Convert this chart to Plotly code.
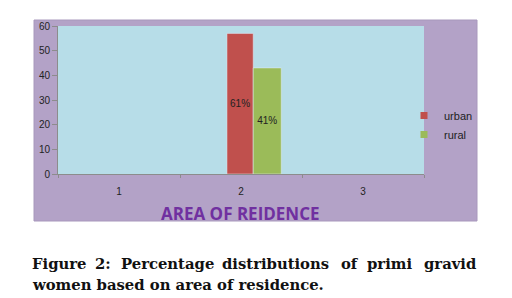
import plotly.graph_objects as go

categories = [1, 2, 3]
urban = [None, 57, None]
rural = [None, 43, None]
urban_labels = ["", "61%", ""]
rural_labels = ["", "41%", ""]
y_ticks = [0, 10, 20, 30, 40, 50, 60]
series_names = ["urban", "rural"]
series_colors = ["#C0504D", "#9BBB59"]
x_title = "AREA OF REIDENCE"
caption_line1_words = ["Figure", "2:", "Percentage", "distributions", "of", "primi", "gravid"]
caption_line2 = "women based on area of residence."

# layout positions (page pixels) of justified caption words
word_px = [30, 93, 119, 220, 339, 365, 422]

W, H = 504, 290  # page body has 8px margin
L, R, T, B = 50, 88, 18, 124
pw, ph = W - L - R, H - T - B

def px(xp):
    return (xp - 8 - L) / pw

def py(yp):
    return (H - B - (yp - 8)) / ph

fig = go.Figure()
fig.add_trace(go.Bar(x=categories, y=urban, name=series_names[0], marker_color=series_colors[0],
                     width=0.215, offset=-0.115, text=urban_labels, showlegend=False,
                     textposition="inside", insidetextanchor="middle",
                     textfont=dict(size=10, color="#222", family="Liberation Sans"),
                     textangle=0))
fig.add_trace(go.Bar(x=categories, y=rural, name=series_names[1], marker_color=series_colors[1],
                     width=0.23, offset=0.10, text=rural_labels, showlegend=False,
                     textposition="inside", insidetextanchor="middle",
                     textfont=dict(size=10, color="#222", family="Liberation Sans"),
                     textangle=0))
for n, c in zip(series_names, series_colors):
    fig.add_trace(go.Scatter(x=[None], y=[None], mode="markers", name=n,
                             marker=dict(symbol="square", size=7, color=c)))

annotations = [
    dict(text=x_title, xref="paper", yref="paper", x=px(240), y=py(213),
         xanchor="center", yanchor="middle", showarrow=False,
         font=dict(size=17, color="#7030A0", family="Open Sans", weight="bold")),
    dict(text=caption_line2, xref="paper", yref="paper", x=px(30), y=py(284),
         xanchor="left", yanchor="middle", showarrow=False,
         font=dict(size=14.8, color="#111", family="DejaVu Serif", weight="bold")),
]
for w, xp in zip(caption_line1_words, word_px):
    annotations.append(dict(text=w, xref="paper", yref="paper", x=px(xp), y=py(263),
                            xanchor="left", yanchor="middle", showarrow=False,
                            font=dict(size=14.8, color="#111", family="DejaVu Serif", weight="bold")))

fig.update_layout(
    width=W, height=H,
    margin=dict(l=L, r=R, t=T, b=B, pad=0),
    paper_bgcolor="white",
    plot_bgcolor="#B7DDE8",
    barmode="overlay",
    showlegend=True,
    legend=dict(x=px(404), y=py(101), xanchor="left", yanchor="top",
                bgcolor="rgba(0,0,0,0)", font=dict(size=11, color="#222", family="Liberation Sans"),
                itemwidth=30),
    font=dict(family="Liberation Sans", size=10, color="#222"),
    shapes=[
        dict(type="rect", xref="paper", yref="paper", x0=px(34), x1=px(477),
             y0=py(221), y1=py(20), fillcolor="#B3A2C7", line=dict(color="#A898BC", width=1),
             layer="below"),
        dict(type="rect", xref="paper", yref="paper", x0=0, x1=1, y0=0, y1=1,
             fillcolor="#B7DDE8", line=dict(width=0), layer="below"),
    ],
    annotations=annotations,
)
fig.update_xaxes(range=[0.5, 3.5], tickvals=categories, ticktext=[str(c) for c in categories],
                 showline=True, linecolor="#8C8C8C", showgrid=False, zeroline=False,
                 ticks="", ticklabelstandoff=8, tickfont=dict(size=10, color="#222"),
                 minor=dict(tickvals=[0.5, 1.5, 2.5, 3.5], ticks="outside", ticklen=3,
                            tickcolor="#8C8C8C", showgrid=False))
fig.update_yaxes(range=[0, 60], tickvals=y_ticks, showline=True, linecolor="#8C8C8C",
                 showgrid=False, zeroline=False, ticks="outside", ticklen=5, tickcolor="#8C8C8C",
                 tickfont=dict(size=10, color="#222"))

fig.write_html("out.html")
